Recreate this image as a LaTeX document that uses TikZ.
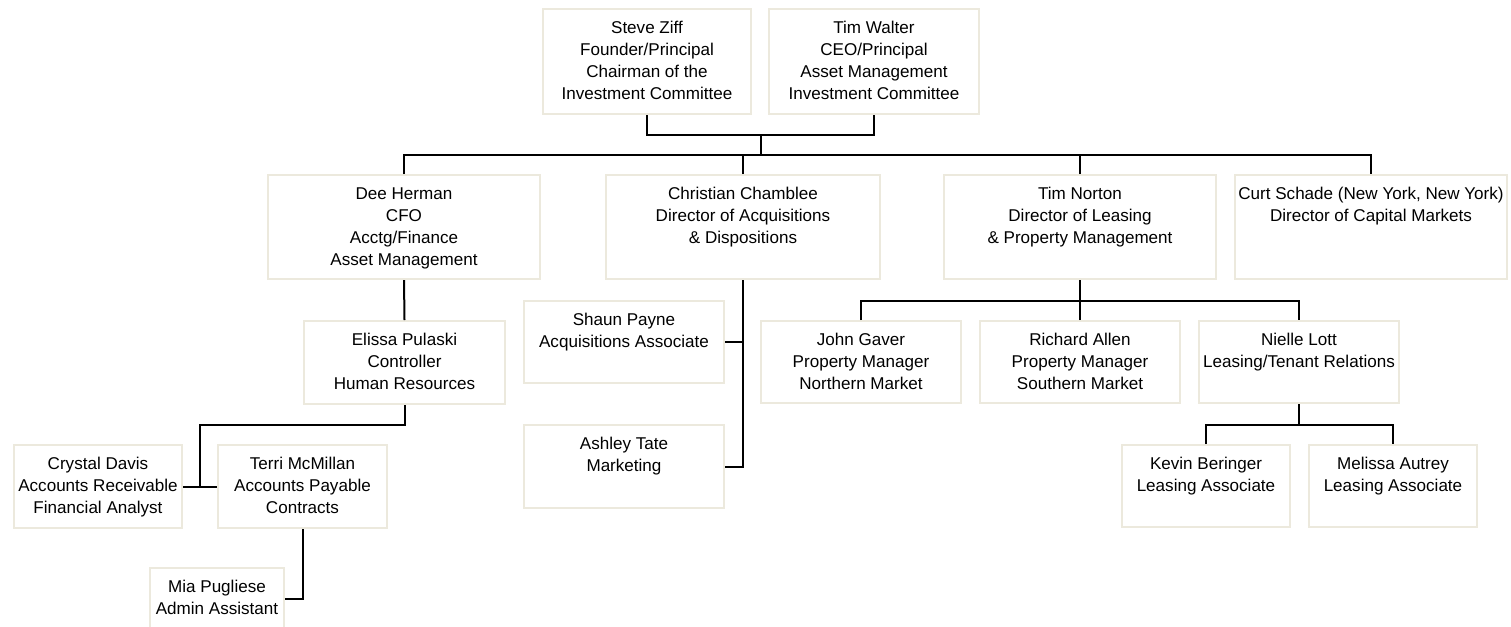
\documentclass[tikz,border=0pt]{standalone}
\usepackage{fontspec}
\setmainfont{Liberation Sans}
\usetikzlibrary{calc}
\definecolor{cardline}{HTML}{ECE9DD}
\newcommand\cardtext[1]{\begin{tabular}[t]{@{}c@{}}#1\end{tabular}}
\begin{document}
\begin{tikzpicture}[x=0.75pt,y=-0.75pt,
    card/.style={draw=cardline,line width=1.5pt,anchor=north west,inner sep=0pt,
                 text height=18.4pt,font=\fontsize{12.8}{16.5}\selectfont},
    cardsize/.code 2 args={\pgfmathsetmacro\cardw{#1*0.75}\pgfmathsetmacro\carddp{(#2-24.5)*0.75}%
                 \edef\cardtmp{\noexpand\tikzset{minimum width=\cardw pt,text depth=\carddp pt}}\cardtmp},
    link/.style={line width=1.5pt,black}]
\useasboundingbox (0,0) rectangle (1511,626);
% principals
\node[card,cardsize={208}{105}] (ziff) at (542,8) {\cardtext{Steve Ziff\\Founder/Principal\\Chairman of the\\Investment Committee}};
\node[card,cardsize={210}{105}] (walter) at (768,8) {\cardtext{Tim Walter\\CEO/Principal\\Asset Management\\Investment Committee}};
% directors
\node[card,cardsize={272}{104}] (herman) at (267,174) {\cardtext{Dee Herman\\CFO\\Acctg/Finance\\Asset Management}};
\node[card,cardsize={274}{104}] (chamblee) at (605,174) {\cardtext{Christian Chamblee\\Director of Acquisitions\\\& Dispositions}};
\node[card,cardsize={272}{104}] (norton) at (943,174) {\cardtext{Tim Norton\\Director of Leasing\\\& Property Management}};
\node[card,cardsize={272}{104}] (schade) at (1234,174) {\cardtext{Curt Schade (New York, New York)\\Director of Capital Markets}};
% staff
\node[card,cardsize={201}{83}] (pulaski) at (303,320) {\cardtext{Elissa Pulaski\\Controller\\Human Resources}};
\node[card,cardsize={168}{83}] (davis) at (13,444) {\cardtext{Crystal Davis\\Accounts Receivable\\Financial Analyst}};
\node[card,cardsize={169}{83}] (mcmillan) at (217,444) {\cardtext{Terri McMillan\\Accounts Payable\\Contracts}};
\node[card,cardsize={134}{62}] (pugliese) at (149,567) {\cardtext{Mia Pugliese\\Admin Assistant}};
\node[card,cardsize={200}{82}] (payne) at (523,300) {\cardtext{Shaun Payne\\Acquisitions Associate}};
\node[card,cardsize={200}{83}] (tate) at (523,424) {\cardtext{Ashley Tate\\Marketing}};
\node[card,cardsize={200}{82}] (gaver) at (760,320) {\cardtext{John Gaver\\Property Manager\\Northern Market}};
\node[card,cardsize={200}{82}] (allen) at (979,320) {\cardtext{Richard Allen\\Property Manager\\Southern Market}};
\node[card,cardsize={200}{82}] (lott) at (1198,320) {\cardtext{Nielle Lott\\Leasing/Tenant Relations}};
\node[card,cardsize={168}{82}] (beringer) at (1121,444) {\cardtext{Kevin Beringer\\Leasing Associate}};
\node[card,cardsize={168}{82}] (autrey) at (1308,444) {\cardtext{Melissa Autrey\\Leasing Associate}};
% lines
\draw[link] (ziff.south) -- ++(0,20) coordinate (zj) -| (walter.south);
\draw[link] ($(zj)!.5!(zj -| walter.south)$) -- ++(0,20) coordinate (bus);
\draw[link] (herman.north) |- (bus -| schade.north) -- (schade.north);
\draw[link] (chamblee.north) -- (chamblee.north |- bus);
\draw[link] (norton.north) -- (norton.north |- bus);
\draw[link] (herman.south) -- (pulaski.north);
\draw[link] (davis.east) -- (mcmillan.west);
\draw[link] (pulaski.south) -- ++(0,20) -| ($(davis.east)!.5!(mcmillan.west)$);
\draw[link] (mcmillan.south) |- (pugliese.east);
\draw[link] (chamblee.south) |- (tate.east);
\draw[link] (payne.east) -- (payne.east -| chamblee.south);
\draw[link] (norton.south) -- ++(0,21) coordinate (nj);
\draw[link] (gaver.north) |- (nj -| lott.north) -- (lott.north);
\draw[link] (allen.north) -- (allen.north |- nj);
\draw[link] (lott.south) -- ++(0,21) coordinate (lj);
\draw[link] (beringer.north) |- (lj -| autrey.north) -- (autrey.north);
\end{tikzpicture}
\end{document}
